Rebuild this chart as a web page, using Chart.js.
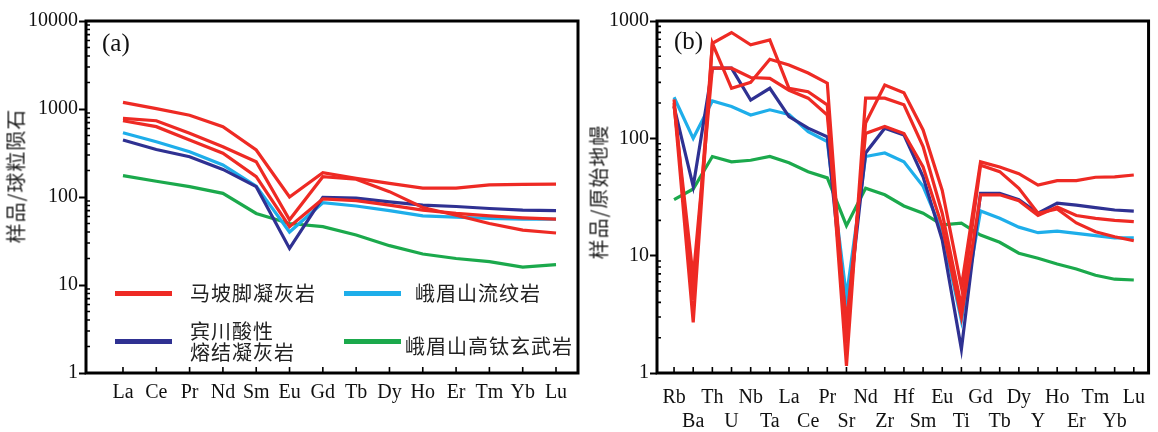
<!doctype html>
<html>
<head>
<meta charset="utf-8">
<title>REE / spider diagrams</title>
<script src="https://cdn.jsdelivr.net/npm/chart.js"></script>
<style>
    body { margin: 0; background: #fff; }
    #wrap { position: relative; width: 1158px; height: 432px; overflow: hidden; background: #fff; }
    canvas { position: absolute; top: 0; }
    #chartA { left: 0; }
    #chartB { left: 580px; }
    .ytitle {
        position: absolute;
        font-family: "Noto Sans CJK SC";
        font-size: 20px;
        letter-spacing: 1px;
        white-space: nowrap;
        color: #222;
        transform: translate(-50%, -50%) rotate(-90deg);
    }
    .tag { position: absolute; font-family: "Liberation Serif"; font-size: 25px; line-height: 25px; color: #111; }
    .swatch { position: absolute; width: 57px; height: 5px; }
    .ltext {
        position: absolute;
        font-family: "Noto Sans CJK SC";
        font-size: 20px;
        line-height: 21px;
        letter-spacing: 1px;
        white-space: nowrap;
        color: #222;
    }
</style>
</head>
<body>
<div id="wrap">
    <canvas id="chartA" width="580" height="432"></canvas>
    <canvas id="chartB" width="578" height="432"></canvas>

    <div class="ytitle" style="left:15px; top:176px;">样品/球粒陨石</div>
    <div class="ytitle" style="left:598px; top:192px;">样品/原始地幔</div>
    <div class="tag" style="left:102px; top:30px;">(a)</div>
    <div class="tag" style="left:674px; top:28px;">(b)</div>

    <div class="swatch" style="left:115px; top:291px; background:#ee2a24;"></div>
    <div class="ltext" style="left:190px; top:282px;">马坡脚凝灰岩</div>
    <div class="swatch" style="left:344px; top:291px; background:#1eaeea;"></div>
    <div class="ltext" style="left:415px; top:282px;">峨眉山流纹岩</div>
    <div class="swatch" style="left:115px; top:339px; background:#2f3192;"></div>
    <div class="ltext" style="left:190px; top:320px;">宾川酸性<br>熔结凝灰岩</div>
    <div class="swatch" style="left:344px; top:339px; background:#1ba94c;"></div>
    <div class="ltext" style="left:405px; top:335px;">峨眉山高钛玄武岩</div>
</div>

<script>
    // (a) chondrite-normalised REE
    const reeLabels = ['La', 'Ce', 'Pr', 'Nd', 'Sm', 'Eu', 'Gd', 'Tb', 'Dy', 'Ho', 'Er', 'Tm', 'Yb', 'Lu'];
    const reeMapo1 = [1190, 1010, 850, 630, 342, 100, 189, 163, 143, 126, 126, 137, 139, 140];
    const reeMapo2 = [783, 736, 530, 373, 252, 55, 170, 159, 115, 76, 62, 50, 42, 39];
    const reeMapo3 = [736, 630, 444, 314, 170, 46, 95, 91, 81, 71, 65, 61, 58, 56];
    const reeBinchuan = [444, 347, 287, 206, 131, 26, 99, 97, 88, 81, 78, 74, 71, 70];
    const reeRhyolite = [537, 424, 327, 231, 133, 40, 86, 79, 70, 61, 59, 57, 56, 56];
    const reeBasalt = [175, 151, 131, 110, 65, 50, 46, 37, 28, 22.5, 20, 18.4, 16, 17];
    const reeDecades = [1, 10, 100, 1000, 10000];

    // (b) primitive-mantle-normalised spider
    const pmLabels = ['Rb', 'Ba', 'Th', 'U', 'Nb', 'Ta', 'La', 'Ce', 'Pr', 'Sr', 'Nd', 'Zr', 'Hf',
                      'Sm', 'Eu', 'Ti', 'Gd', 'Tb', 'Dy', 'Y', 'Ho', 'Er', 'Tm', 'Yb', 'Lu'];
    const pmMapo1 = [200, 2.7, 646, 798, 626, 690, 267, 250, 193, 1.15, 220, 220, 193, 85, 23, 3.7, 59, 52, 37.5, 23, 25, 19, 16, 14.5, 13.4];
    const pmMapo2 = [215, 4.2, 646, 267, 300, 472, 422, 360, 295, 1.8, 135, 285, 245, 118, 36, 5.4, 63, 57, 50, 40, 43.6, 43.6, 46.6, 47, 48.7];
    const pmMapo3 = [190, 6.5, 396, 396, 330, 324, 257, 220, 158, 2.6, 110, 126, 110, 57, 17.7, 3.0, 33, 33, 29.4, 22, 26, 22, 20.8, 20, 19.5];
    const pmBinchuan = [186, 39, 396, 396, 212, 267, 153, 122, 103, 2.6, 75, 122, 107, 47, 13.6, 1.6, 34, 34, 30, 23, 28, 27, 25.7, 24.5, 24];
    const pmRhyolite = [224, 100, 208, 187, 158, 175, 160, 114, 94, 4.5, 70, 75, 63, 39, 16, 2.8, 24, 20.8, 17.5, 15.7, 16.2, 15.5, 14.8, 14.2, 14.2];
    const pmBasalt = [30, 37, 70, 63, 65, 70, 62, 52, 46, 18, 37.6, 33, 26.5, 23, 18.3, 18.9, 15, 13, 10.5, 9.5, 8.5, 7.7, 6.8, 6.3, 6.2];
    const pmDecades = [1, 10, 100, 1000];

    const RED = '#ee2a24', CYAN = '#1eaeea', NAVY = '#2f3192', GREEN = '#1ba94c';
    const tickFont = { family: 'Liberation Serif', size: 20, lineHeight: 1.2 };

    function line(values, color) {
        return {
            data: values.map((v, i) => ({ x: i, y: v })),
            borderColor: color,
            borderWidth: 3.2,
            pointRadius: 0,
            tension: 0,
            fill: false
        };
    }

    // box, inner minor ticks on y, inner category ticks on x
    const framePlugin = {
        id: 'frame',
        afterDraw(chart) {
            const { ctx, chartArea: a, scales: { x, y } } = chart;
            ctx.save();
            ctx.strokeStyle = '#000';
            ctx.lineWidth = 1.6;
            ctx.beginPath();
            for (let d = y.min; d < y.max; d *= 10) {
                for (let k = 2; k < 10; k++) {
                    const py = y.getPixelForValue(d * k);
                    ctx.moveTo(a.left, py);
                    ctx.lineTo(a.left + 4, py);
                }
            }
            x.ticks.forEach(t => {
                const px = x.getPixelForValue(t.value);
                ctx.moveTo(px, a.bottom);
                ctx.lineTo(px, a.bottom - 6);
            });
            ctx.stroke();
            ctx.lineWidth = 3;
            ctx.strokeRect(a.left, a.top, a.right - a.left, a.bottom - a.top);
            ctx.restore();
        }
    };

    function makeChart(id, cfg) {
        new Chart(document.getElementById(id), {
            type: 'line',
            data: { datasets: cfg.datasets },
            options: {
                responsive: false,
                animation: false,
                layout: { padding: { left: 0, top: 21, right: cfg.padRight, bottom: 0 } },
                plugins: { legend: { display: false }, tooltip: { enabled: false } },
                scales: {
                    x: {
                        type: 'linear',
                        min: cfg.xMin,
                        max: cfg.xMax,
                        afterBuildTicks: ax => { ax.ticks = cfg.labels.map((_, i) => ({ value: i })); },
                        afterFit: ax => { ax.height = 59; },
                        grid: { display: false, drawTicks: false },
                        border: { display: false },
                        ticks: {
                            autoSkip: false,
                            maxRotation: 0,
                            padding: cfg.xPad,
                            color: '#111',
                            font: tickFont,
                            callback: cfg.xLabel
                        }
                    },
                    y: {
                        type: 'logarithmic',
                        min: 1,
                        max: cfg.decades[cfg.decades.length - 1],
                        afterBuildTicks: ax => { ax.ticks = cfg.decades.map(v => ({ value: v })); },
                        afterFit: ax => { ax.width = cfg.yWidth; },
                        grid: { display: true, drawOnChartArea: false, drawTicks: true, tickLength: 7, tickWidth: 2, tickColor: '#000' },
                        border: { display: false },
                        ticks: { padding: 1, color: '#111', font: tickFont, callback: v => String(v) }
                    }
                }
            },
            plugins: [framePlugin]
        });
    }

    makeChart('chartA', {
        labels: reeLabels,
        decades: reeDecades,
        xMin: -1.11,
        xMax: 13.66,
        yWidth: 86,
        padRight: 2,
        xPad: 8,
        xLabel: v => reeLabels[v],
        datasets: [
            line(reeMapo1, RED), line(reeMapo2, RED), line(reeMapo3, RED),
            line(reeBinchuan, NAVY), line(reeRhyolite, CYAN), line(reeBasalt, GREEN)
        ]
    });

    makeChart('chartB', {
        labels: pmLabels,
        decades: pmDecades,
        xMin: -0.89,
        xMax: 24.77,
        yWidth: 77,
        padRight: 3,
        xPad: 13,
        xLabel: v => (v % 2 === 0 ? [pmLabels[v], ''] : ['', pmLabels[v]]),
        datasets: [
            line(pmMapo1, RED), line(pmMapo2, RED), line(pmMapo3, RED),
            line(pmBinchuan, NAVY), line(pmRhyolite, CYAN), line(pmBasalt, GREEN)
        ]
    });
</script>
</body>
</html>
